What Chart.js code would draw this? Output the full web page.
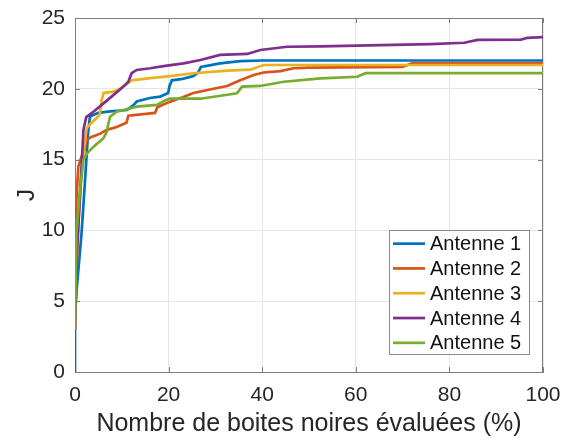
<!DOCTYPE html>
<html>
<head>
<meta charset="utf-8">
<script src="https://cdn.jsdelivr.net/npm/chart.js@4/dist/chart.umd.min.js"></script>
<style>
  html, body { margin: 0; padding: 0; background: #ffffff; }
  canvas { display: block; }
</style>
</head>
<body>
<canvas id="chart" width="566" height="441"></canvas>
<script>
// Best value J found so far vs. share of black boxes evaluated (%)
const seriesNames = ['Antenne 1', 'Antenne 2', 'Antenne 3', 'Antenne 4', 'Antenne 5'];
const seriesColors = ['#0072BD', '#D95319', '#EDB120', '#7E2F8E', '#77AC30'];

const antenne1X = [0, 0, 0.4, 1.4, 2.1, 2.8, 3.2, 5, 7.5, 11.1, 12.5, 13.2, 16, 18.2, 19.9, 20.2, 20.7, 23, 25.3, 26.3, 26.9, 31, 35.3, 40, 100];
const antenne1J = [0, 4.2, 6.0, 9.8, 13.3, 16.9, 18.05, 18.3, 18.4, 18.5, 18.85, 19.1, 19.35, 19.45, 19.7, 20.2, 20.6, 20.7, 20.9, 21.15, 21.55, 21.8, 21.95, 22.0, 22.0];

const antenne2X = [0, 0.3, 0.7, 1.4, 2.1, 2.5, 3.5, 4.4, 5.5, 6.8, 8.9, 11.0, 11.4, 17.1, 17.6, 19.6, 23, 25.3, 29.6, 32.5, 35.3, 38.2, 40.3, 43.9, 46.7, 50, 70, 72, 100];
const antenne2J = [9.5, 12.1, 14.5, 15.2, 15.8, 16.4, 16.6, 16.7, 16.85, 17.1, 17.3, 17.6, 18.1, 18.3, 18.7, 19.0, 19.4, 19.7, 20.0, 20.2, 20.6, 20.97, 21.15, 21.25, 21.45, 21.5, 21.55, 21.8, 21.8];

const antenne3X = [0, 0.3, 0.8, 1.5, 2.2, 2.5, 3.2, 4.5, 5.3, 5.7, 6.1, 8.2, 9.6, 10.7, 12.1, 16.1, 20.3, 25.3, 32.5, 37.5, 40.3, 100];
const antenne3J = [3.0, 7.0, 11.0, 14.5, 16.5, 17.2, 17.5, 17.9, 18.2, 19.2, 19.7, 19.8, 20.0, 20.25, 20.6, 20.75, 20.9, 21.1, 21.28, 21.35, 21.68, 21.68];

const antenne4X = [0, 0.5, 1.0, 1.4, 1.8, 2.4, 4, 6.1, 8, 10.3, 11.4, 12.1, 13.2, 16.1, 18.9, 23.2, 26.8, 31, 36.8, 39.6, 45.3, 52.5, 65.3, 76, 83.2, 86, 95.3, 96.7, 100];
const antenne4J = [3.0, 9.0, 12.0, 14.5, 17.1, 18.0, 18.4, 18.97, 19.5, 20.15, 20.5, 21.1, 21.33, 21.45, 21.6, 21.8, 22.03, 22.39, 22.46, 22.74, 22.97, 22.99, 23.09, 23.16, 23.25, 23.45, 23.47, 23.6, 23.65];

const antenne5X = [0, 0.3, 1.07, 1.8, 2.5, 3.9, 6.06, 6.8, 7.1, 7.5, 8.9, 13.2, 17.5, 19.3, 20.3, 26.8, 34.6, 35.7, 39.6, 44.6, 52.5, 60.3, 62.1, 100];
const antenne5J = [3.0, 9.8, 12.85, 15.0, 15.4, 15.9, 16.5, 16.97, 17.5, 18.03, 18.38, 18.74, 18.86, 19.2, 19.3, 19.3, 19.68, 20.15, 20.2, 20.5, 20.74, 20.85, 21.1, 21.1];

const xTicks = [0, 20, 40, 60, 80, 100];
const yTicks = [0, 5, 10, 15, 20, 25];
const xTitle = 'Nombre de boites noires évaluées (%)';
const yTitle = 'J';

const seriesX = [antenne1X, antenne2X, antenne3X, antenne4X, antenne5X];
const seriesJ = [antenne1J, antenne2J, antenne3J, antenne4J, antenne5J];

const FONT = '"Liberation Sans", Arial, Helvetica, sans-serif';
const TEXT = '#262626';
const AXIS = '#7d7d7d';

const datasets = seriesNames.map((name, i) => ({
  label: name,
  data: seriesX[i].map((x, k) => ({ x: x, y: seriesJ[i][k] })),
  borderColor: seriesColors[i],
  backgroundColor: seriesColors[i],
  borderWidth: 2.7,
  pointRadius: 0,
  tension: 0,
  fill: false,
  order: seriesNames.length - 1 - i   // later series drawn on top
}));

// Box outline plus inward tick marks on all four sides
const framePlugin = {
  id: 'frame',
  beforeDatasetsDraw(chart) {
    const { ctx, chartArea: a, scales } = chart;
    ctx.save();
    ctx.strokeStyle = AXIS;
    ctx.lineWidth = 1;
    ctx.beginPath();
    ctx.moveTo(a.left, a.top + 0.5);
    ctx.lineTo(a.right, a.top + 0.5);
    ctx.moveTo(a.right - 0.5, a.top);
    ctx.lineTo(a.right - 0.5, a.bottom);
    const tl = 5;
    xTicks.forEach(v => {
      const px = Math.round(scales.x.getPixelForValue(v)) + 0.5;
      ctx.moveTo(px, a.bottom); ctx.lineTo(px, a.bottom - tl);
      ctx.moveTo(px, a.top); ctx.lineTo(px, a.top + tl);
    });
    yTicks.forEach(v => {
      const py = Math.round(scales.y.getPixelForValue(v)) + 0.5;
      ctx.moveTo(a.left, py); ctx.lineTo(a.left + tl, py);
      ctx.moveTo(a.right, py); ctx.lineTo(a.right - tl, py);
    });
    ctx.stroke();
    ctx.restore();
  }
};

// Legend box in the lower right of the plot area
const legendPlugin = {
  id: 'legendBox',
  afterDatasetsDraw(chart) {
    const { ctx, chartArea: a } = chart;
    const w = 140, rowH = 24.8;
    const h = rowH * seriesNames.length;
    const right = a.right - 14, bottom = a.bottom - 18;
    const left = right - w, top = bottom - h;
    ctx.save();
    ctx.fillStyle = '#ffffff';
    ctx.fillRect(left, top, w, h);
    ctx.strokeStyle = '#8a8a8a';
    ctx.lineWidth = 1;
    ctx.strokeRect(Math.round(left) + 0.5, Math.round(top) + 0.5, Math.round(w), Math.round(h));
    ctx.font = '20px ' + FONT;
    ctx.textBaseline = 'middle';
    ctx.textAlign = 'left';
    seriesNames.forEach((name, i) => {
      const y = top + rowH * (i + 0.55);
      ctx.strokeStyle = seriesColors[i];
      ctx.lineWidth = 2.7;
      ctx.beginPath();
      ctx.moveTo(left + 4, y);
      ctx.lineTo(left + 36, y);
      ctx.stroke();
      ctx.fillStyle = '#111111';
      ctx.fillText(name, left + 41, y + 1);
    });
    ctx.restore();
  }
};

new Chart(document.getElementById('chart').getContext('2d'), {
  type: 'line',
  data: { datasets },
  options: {
    responsive: false,
    animation: false,
    events: [],
    layout: { padding: { left: 0, top: 18, right: 23, bottom: 0 } },
    plugins: { legend: { display: false }, tooltip: { enabled: false } },
    scales: {
      x: {
        type: 'linear',
        min: 0, max: 100,
        afterBuildTicks: s => { s.ticks = xTicks.map(v => ({ value: v })); },
        afterFit: s => { s.height = 69; s.paddingLeft = 0; s.paddingRight = 0; },
        ticks: { font: { family: FONT, size: 21 }, color: TEXT, padding: 11, maxRotation: 0 },
        grid: { color: '#e6e6e6', lineWidth: 1, drawTicks: false },
        border: { display: true, color: AXIS, width: 1 },
        title: { display: true, text: xTitle, font: { family: FONT, size: 25 }, color: TEXT, padding: { top: 0, bottom: 2 } }
      },
      y: {
        type: 'linear',
        min: 0, max: 25,
        afterBuildTicks: s => { s.ticks = yTicks.map(v => ({ value: v })); },
        afterFit: s => { s.width = 75; s.paddingTop = 0; s.paddingBottom = 0; },
        ticks: { font: { family: FONT, size: 21 }, color: TEXT, padding: 10 },
        grid: { color: '#e6e6e6', lineWidth: 1, drawTicks: false },
        border: { display: true, color: AXIS, width: 1 },
        title: { display: true, text: yTitle, font: { family: FONT, size: 24 }, color: TEXT, padding: { top: 13, bottom: 0 } }
      }
    }
  },
  plugins: [framePlugin, legendPlugin]
});
</script>
</body>
</html>
